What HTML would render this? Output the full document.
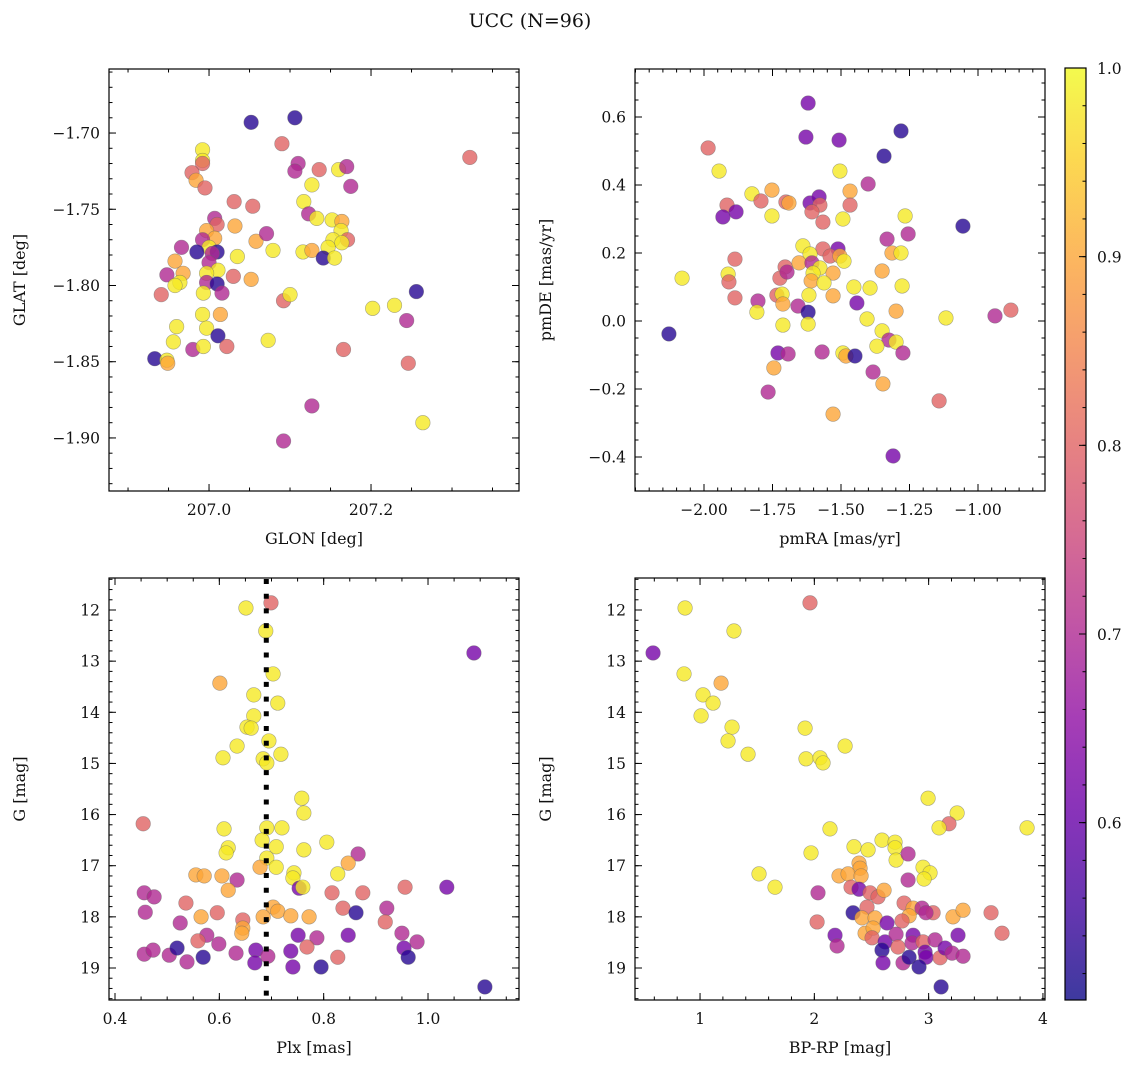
<!DOCTYPE html>
<html><head><meta charset="utf-8">
<style>
html,body{margin:0;padding:0;background:#fff;}
svg text{font-family:"DejaVu Serif","Liberation Serif",serif;fill:#111;}
</style></head>
<body>
<svg id="fig" width="1136" height="1068" viewBox="0 0 1136 1068" xmlns="http://www.w3.org/2000/svg">
<text x="530" y="27" font-size="19" text-anchor="middle">UCC (N=96)</text>
<defs>
<linearGradient id="plasmaGrad" x1="0" y1="1" x2="0" y2="0"></linearGradient>
</defs>
</svg>
<script>
// ---------- Panel 1: GLON / GLAT ----------
const p1Lon=[207.052,207.106,207.090,206.992,206.992,206.992,206.979,206.984,206.995,207.110,207.106,207.136,207.160,207.170,207.175,207.127,207.117,207.123,207.133,207.152,207.164,207.163,207.171,207.153,207.164,207.147,207.116,207.127,207.141,207.155,
207.031,207.054,207.007,207.010,207.032,206.997,207.007,206.992,207.000,207.010,206.985,206.966,207.004,207.058,207.071,207.079,207.035,206.958,207.000,207.011,206.997,206.968,206.948,206.964,206.958,206.997,207.010,207.016,206.993,207.030,207.052,206.941,207.092,207.100,207.202,206.992,207.014,206.960,206.997,207.011,206.956,206.980,206.993,207.022,207.073,207.166,206.933,206.948,206.949,
207.229,207.256,207.244,207.246,207.264,207.127,207.092,207.322];
const p1Lat=[-1.693,-1.690,-1.707,-1.711,-1.718,-1.720,-1.726,-1.731,-1.736,-1.720,-1.725,-1.724,-1.724,-1.722,-1.735,-1.734,-1.745,-1.753,-1.756,-1.757,-1.758,-1.764,-1.770,-1.770,-1.772,-1.775,-1.778,-1.777,-1.782,-1.782,
-1.745,-1.748,-1.756,-1.760,-1.761,-1.764,-1.769,-1.770,-1.775,-1.778,-1.778,-1.775,-1.779,-1.771,-1.766,-1.777,-1.781,-1.784,-1.785,-1.790,-1.792,-1.792,-1.793,-1.798,-1.800,-1.798,-1.799,-1.805,-1.805,-1.794,-1.796,-1.806,-1.810,-1.806,-1.815,-1.819,-1.819,-1.827,-1.828,-1.833,-1.837,-1.842,-1.840,-1.840,-1.836,-1.842,-1.848,-1.849,-1.851,
-1.813,-1.804,-1.823,-1.851,-1.890,-1.879,-1.902,-1.716];
const p1Prob=[0.53,0.53,0.8,0.98,0.98,0.8,0.8,0.9,0.8,0.7,0.7,0.8,0.98,0.7,0.7,0.98,0.98,0.7,0.98,0.98,0.9,0.98,0.8,0.98,0.98,0.98,0.98,0.9,0.53,0.98,
0.8,0.8,0.7,0.8,0.9,0.9,0.9,0.7,0.98,0.53,0.53,0.7,0.7,0.9,0.7,0.98,0.98,0.9,0.7,0.98,0.98,0.9,0.7,0.98,0.98,0.7,0.53,0.7,0.98,0.8,0.9,0.8,0.8,0.98,0.98,0.98,0.9,0.98,0.98,0.53,0.98,0.7,0.98,0.8,0.98,0.8,0.53,0.98,0.9,
0.98,0.53,0.7,0.8,0.98,0.7,0.7,0.8];
const p1XTicks=[207.0,207.2];
const p1XLabels=["207.0","207.2"];
const p1YTicks=[-1.70,-1.75,-1.80,-1.85,-1.90];
const p1YLabels=["\u22121.70","\u22121.75","\u22121.80","\u22121.85","\u22121.90"];

// ---------- Panel 2: pmRA / pmDE ----------
const p2PmRA=[-1.620,-1.628,-1.507,-1.281,-1.343,-1.985,-1.945,-1.504,-1.401,-1.825,-1.752,-1.792,-1.701,-1.690,-1.613,-1.580,-1.577,-1.606,-1.566,-1.467,-1.467,-1.493,-1.916,-1.883,-1.931,-1.752,-1.266,-1.055,-1.332,-1.255,
-1.639,-1.566,-1.511,-1.540,-1.504,-1.489,-1.613,-1.314,-1.281,-1.887,-2.080,-1.912,-1.909,-1.704,-1.653,-1.606,-1.577,-1.602,-1.529,-1.350,-1.723,-1.697,-1.609,-1.562,-1.453,-1.394,-1.277,-1.887,-1.803,-1.734,
-1.715,-1.712,-1.617,-1.529,-1.657,-1.442,-1.807,-1.620,-1.299,-1.712,-1.620,-1.405,-1.117,-0.938,-0.880,-2.128,-1.350,-1.325,-1.299,-1.369,-1.274,-1.730,-1.693,-1.569,-1.493,-1.482,-1.449,-1.745,-1.383,-1.347,-1.766,-1.142,-1.529,-1.310];
const p2PmDE=[0.641,0.541,0.532,0.559,0.485,0.509,0.441,0.441,0.403,0.374,0.385,0.353,0.350,0.347,0.347,0.365,0.341,0.321,0.291,0.382,0.341,0.300,0.341,0.321,0.306,0.309,0.309,0.279,0.241,0.256,
0.221,0.212,0.212,0.191,0.191,0.176,0.197,0.200,0.200,0.182,0.126,0.138,0.115,0.159,0.171,0.171,0.156,0.141,0.141,0.147,0.126,0.144,0.118,0.112,0.100,0.097,0.103,0.068,0.059,0.076,
0.079,0.050,0.076,0.074,0.044,0.053,0.026,0.026,0.029,-0.012,-0.009,0.006,0.009,0.015,0.032,-0.038,-0.029,-0.056,-0.062,-0.074,-0.094,-0.094,-0.097,-0.091,-0.094,-0.103,-0.103,-0.138,-0.150,-0.185,-0.209,-0.235,-0.274,-0.397];
const p2Prob=[0.62,0.62,0.62,0.53,0.53,0.8,0.98,0.98,0.7,0.98,0.9,0.8,0.8,0.9,0.62,0.62,0.8,0.8,0.8,0.9,0.8,0.98,0.8,0.62,0.62,0.98,0.98,0.53,0.7,0.7,
0.98,0.8,0.62,0.8,0.9,0.98,0.98,0.9,0.98,0.8,0.98,0.98,0.8,0.8,0.9,0.7,0.98,0.98,0.9,0.9,0.8,0.7,0.9,0.98,0.98,0.98,0.98,0.8,0.7,0.8,
0.98,0.9,0.98,0.9,0.7,0.62,0.98,0.53,0.9,0.98,0.98,0.98,0.98,0.7,0.8,0.53,0.98,0.7,0.98,0.98,0.7,0.62,0.7,0.7,0.98,0.9,0.53,0.9,0.7,0.9,0.7,0.8,0.9,0.62];
const p2XTicks=[-2.0,-1.75,-1.5,-1.25,-1.0];
const p2XLabels=["\u22122.00","\u22121.75","\u22121.50","\u22121.25","\u22121.00"];
const p2YTicks=[-0.4,-0.2,0.0,0.2,0.4,0.6];
const p2YLabels=["\u22120.4","\u22120.2","0.0","0.2","0.4","0.6"];

// ---------- Panel 3: Plx / G ----------
const p3Plx=[0.699,0.651,0.689,1.088,0.703,0.601,0.666,0.712,0.666,0.653,0.661,0.695,0.634,0.607,0.684,0.691,0.718,0.758,0.762,0.454,0.609,0.691,0.720,0.682,0.709,0.762,0.806,0.617,0.613,0.866,
0.691,0.847,0.678,0.709,0.743,0.555,0.571,0.605,0.634,0.827,0.741,0.617,0.753,0.760,0.956,1.036,0.456,0.475,0.816,0.875,0.536,0.458,0.596,0.565,0.703,0.712,0.684,0.737,0.772,0.837,
0.862,0.921,0.918,0.645,0.645,0.643,0.525,0.576,0.559,0.599,0.751,0.787,0.847,0.950,0.979,0.954,0.962,0.456,0.473,0.504,0.519,0.538,0.569,0.632,0.670,0.668,0.693,0.737,0.741,0.768,0.795,0.827,1.109];
const p3G=[11.86,11.96,12.41,12.84,13.25,13.43,13.66,13.82,14.07,14.29,14.31,14.56,14.66,14.89,14.91,14.99,14.82,15.68,15.97,16.18,16.28,16.26,16.26,16.50,16.63,16.69,16.54,16.65,16.75,16.77,
16.85,16.95,17.03,17.03,17.14,17.18,17.20,17.20,17.28,17.16,17.24,17.48,17.44,17.42,17.42,17.42,17.53,17.61,17.53,17.53,17.73,17.91,17.92,18.00,17.81,17.89,18.00,17.98,18.00,17.83,
17.92,17.83,18.10,18.06,18.22,18.32,18.12,18.36,18.47,18.53,18.36,18.41,18.36,18.32,18.49,18.61,18.79,18.73,18.65,18.75,18.61,18.88,18.79,18.71,18.65,18.90,18.77,18.67,18.98,18.59,18.98,18.79,19.37];
const p3Prob=[0.8,0.98,0.98,0.62,0.98,0.9,0.98,0.98,0.98,0.98,0.98,0.98,0.98,0.98,0.98,0.98,0.98,0.98,0.98,0.8,0.98,0.98,0.98,0.98,0.98,0.98,0.98,0.98,0.98,0.7,
0.98,0.9,0.9,0.98,0.98,0.9,0.9,0.9,0.7,0.98,0.98,0.9,0.62,0.98,0.8,0.62,0.7,0.7,0.8,0.8,0.8,0.7,0.8,0.9,0.9,0.9,0.9,0.9,0.9,0.8,
0.53,0.7,0.8,0.8,0.9,0.9,0.7,0.7,0.8,0.7,0.62,0.7,0.62,0.7,0.7,0.62,0.53,0.7,0.7,0.7,0.53,0.7,0.53,0.7,0.62,0.62,0.7,0.62,0.62,0.8,0.53,0.8,0.53];
const p3PlxMean=0.69;
const p3XTicks=[0.4,0.6,0.8,1.0];
const p3XLabels=["0.4","0.6","0.8","1.0"];
const gTicks=[12,13,14,15,16,17,18,19];
const gLabels=["12","13","14","15","16","17","18","19"];

// ---------- Panel 4: BP-RP / G ----------
const p4BpRp=[0.869,1.962,1.297,0.589,0.860,1.184,1.026,1.114,1.009,1.280,1.245,1.420,1.919,1.927,2.050,2.076,2.269,2.995,3.249,3.178,3.091,3.861,2.137,1.971,2.347,2.470,2.592,2.706,2.706,2.715,
2.820,2.951,3.012,2.960,2.820,2.391,2.400,2.216,2.295,2.409,1.516,1.656,2.032,2.321,2.391,2.487,2.557,2.610,2.024,2.339,2.461,2.417,2.531,2.785,2.864,2.829,2.767,2.942,3.039,2.977,
3.213,3.301,3.546,3.642,2.636,2.444,2.514,2.505,2.181,2.199,2.619,2.592,2.601,2.715,2.732,2.776,2.864,2.855,2.829,2.951,2.969,2.977,2.916,3.056,3.100,3.144,3.205,3.257,3.301,3.109];
const p4G=[11.96,11.86,12.41,12.84,13.25,13.43,13.66,13.82,14.07,14.29,14.56,14.82,14.31,14.91,14.89,14.99,14.66,15.68,15.97,16.18,16.26,16.26,16.28,16.75,16.63,16.69,16.50,16.54,16.65,16.89,
16.77,17.03,17.14,17.26,17.28,16.95,17.05,17.20,17.16,17.20,17.16,17.42,17.53,17.42,17.46,17.53,17.61,17.48,18.10,17.92,17.81,18.02,18.02,17.73,17.83,17.98,18.08,17.83,17.92,17.92,
18.00,17.87,17.92,18.32,18.12,18.32,18.22,18.41,18.36,18.57,18.49,18.65,18.90,18.34,18.59,18.90,18.36,18.51,18.79,18.49,18.69,18.79,18.98,18.45,18.80,18.61,18.71,18.36,18.77,19.37];
const p4Prob=[0.98,0.8,0.98,0.62,0.98,0.9,0.98,0.98,0.98,0.98,0.98,0.98,0.98,0.98,0.98,0.98,0.98,0.98,0.98,0.8,0.98,0.98,0.98,0.98,0.98,0.98,0.98,0.98,0.98,0.98,
0.7,0.98,0.98,0.98,0.7,0.9,0.9,0.9,0.9,0.9,0.98,0.98,0.7,0.8,0.62,0.8,0.8,0.9,0.8,0.53,0.8,0.9,0.9,0.8,0.9,0.9,0.8,0.7,0.8,0.7,
0.9,0.9,0.8,0.8,0.62,0.9,0.9,0.8,0.62,0.7,0.62,0.53,0.62,0.7,0.8,0.7,0.62,0.7,0.53,0.8,0.62,0.62,0.53,0.7,0.8,0.62,0.7,0.62,0.7,0.53];
const p4XTicks=[1,2,3,4];
const p4XLabels=["1","2","3","4"];

// ---------- Colorbar ----------
const cbTicks=[0.6,0.7,0.8,0.9,1.0];
const cbLabels=["0.6","0.7","0.8","0.9","1.0"];
const cbMin=0.506, cbMax=1.0;

const NS="http://www.w3.org/2000/svg";
const svg=document.getElementById('fig');
const plasma=[[13,8,135],[65,4,157],[106,0,168],[143,13,164],[177,42,144],[204,71,120],[225,100,98],[242,132,75],[252,166,54],[252,206,37],[240,249,33]];
function cmap(v){
  let t=(v-cbMin)/(cbMax-cbMin); t=Math.max(0,Math.min(1,t));
  const f=t*10, i=Math.min(9,Math.floor(f)), r=f-i;
  const a=plasma[i], b=plasma[i+1];
  return 'rgb('+a.map((c,k)=>Math.round(c+(b[k]-c)*r)).join(',')+')';
}
function el(tag,attrs,parent){
  const e=document.createElementNS(NS,tag);
  for(const k in attrs) e.setAttribute(k,attrs[k]);
  (parent||svg).appendChild(e); return e;
}
function range(a,b,s){const r=[];for(let v=a;v<=b+1e-9;v+=s)r.push(+v.toFixed(6));return r;}

function panel(name,box,xd,yd,xt,xl,yt,yl,xMinor,yMinor,xs,ys,ps,xlabel,ylabel){
  const g=el('g',{});
  
  
  const sx=v=>box.x+(v-xd[0])/(xd[1]-xd[0])*box.w;
  const sy=v=>box.y+box.h-(v-yd[0])/(yd[1]-yd[0])*box.h;
  const pts=el('g',{},g);
  
  
  for(let i=0;i<xs.length;i++){
    const c=el('circle',{cx:sx(xs[i]),cy:sy(ys[i]),r:7.3,fill:cmap(ps[i]),'fill-opacity':0.8,stroke:'#666','stroke-opacity':0.55,'stroke-width':0.6},pts);
    
    
  }
  const fr=el('rect',{x:box.x,y:box.y,width:box.w,height:box.h,fill:'none',stroke:'#000','stroke-width':1.2},g);
  
  
  const tk=el('g',{stroke:'#000','stroke-width':1},g);
  const inX=v=>sx(v)>=box.x-0.5&&sx(v)<=box.x+box.w+0.5;
  const inY=v=>sy(v)>=box.y-0.5&&sy(v)<=box.y+box.h+0.5;
  function xtick(v,len){const X=sx(v);el('line',{x1:X,x2:X,y1:box.y+box.h,y2:box.y+box.h-len},tk);el('line',{x1:X,x2:X,y1:box.y,y2:box.y+len},tk);}
  function ytick(v,len){const Y=sy(v);el('line',{x1:box.x,x2:box.x+len,y1:Y,y2:Y},tk);el('line',{x1:box.x+box.w,x2:box.x+box.w-len,y1:Y,y2:Y},tk);}
  xMinor.filter(inX).forEach(v=>xtick(v,3.5));
  yMinor.filter(inY).forEach(v=>ytick(v,3.5));
  xt.forEach((v,i)=>{xtick(v,7);
    const t=el('text',{x:sx(v),y:box.y+box.h+24,'font-size':15.5,'text-anchor':'middle'},g);t.textContent=xl[i];
    
    });
  yt.forEach((v,i)=>{ytick(v,7);
    const t=el('text',{x:box.x-9,y:sy(v)+5.5,'font-size':15.5,'text-anchor':'end'},g);t.textContent=yl[i];
    
    });
  const xa=el('text',{x:box.x+box.w/2,y:box.y+box.h+53,'font-size':16,'text-anchor':'middle'},g);xa.textContent=xlabel;
  
  
  const ya=el('text',{x:0,y:0,'font-size':16,'text-anchor':'middle',transform:'translate('+(box.x-84)+','+(box.y+box.h/2)+') rotate(-90)'},g);ya.textContent=ylabel;
  
  
}

panel('glon-glat-panel',{x:109,y:69,w:410,h:422},[206.8765,207.3827],[-1.9348,-1.6580],p1XTicks,p1XLabels,p1YTicks,p1YLabels,range(206.85,207.4,0.05),range(-1.94,-1.65,0.01),p1Lon,p1Lat,p1Prob,'GLON [deg]','GLAT [deg]');
panel('pm-panel',{x:635,y:69,w:410,h:422},[-2.2518,-0.7555],[-0.5,0.7412],p2XTicks,p2XLabels,p2YTicks,p2YLabels,range(-2.25,-0.75,0.05),range(-0.5,0.75,0.05),p2PmRA,p2PmDE,p2Prob,'pmRA [mas/yr]','pmDE [mas/yr]');
panel('plx-g-panel',{x:109,y:578,w:410,h:422},[0.3885,1.1744],[19.626,11.374],p3XTicks,p3XLabels,gTicks,gLabels,range(0.35,1.2,0.05),range(11.2,19.8,0.2),p3Plx,p3G,p3Prob,'Plx [mas]','G [mag]');
panel('cmd-panel',{x:635,y:578,w:410,h:422},[0.431,4.018],[19.626,11.374],p4XTicks,p4XLabels,gTicks,gLabels,range(0.4,4.2,0.2),range(11.2,19.8,0.2),p4BpRp,p4G,p4Prob,'BP-RP [mag]','G [mag]');

// plx reference line (drawn above points)
{
  const X=109+(p3PlxMean-0.3885)/(1.1744-0.3885)*410;
  const ln=el('line',{x1:X,x2:X,y1:579,y2:999,stroke:'#000','stroke-width':5,'stroke-dasharray':'5 9.7'});
  
  
}

// colorbar
{
  const grad=document.getElementById('plasmaGrad');
  for(let i=0;i<=20;i++){
    const v=cbMin+(cbMax-cbMin)*i/20;
    el('stop',{offset:(i*5)+'%','stop-color':cmap(v),'stop-opacity':0.8},grad);
  }
  const cb=el('g',{});
  
  
  const cx=1065,cy=68,cw=21,ch=932;
  const sc=v=>cy+ch-(v-cbMin)/(cbMax-cbMin)*ch;
  el('rect',{x:cx,y:cy,width:cw,height:ch,fill:'url(#plasmaGrad)'},cb);
  el('rect',{x:cx,y:cy,width:cw,height:ch,fill:'none',stroke:'#000','stroke-width':1.2},cb);
  range(0.52,1.0,0.02).forEach(v=>{const Y=sc(v);el('line',{x1:cx+cw,x2:cx+cw-3.5,y1:Y,y2:Y,stroke:'#000'},cb);});
  cbTicks.forEach((v,i)=>{const Y=sc(v);
    el('line',{x1:cx+cw,x2:cx+cw-7,y1:Y,y2:Y,stroke:'#000'},cb);
    const t=el('text',{x:cx+cw+11,y:Y+6,'font-size':15.5},cb);t.textContent=cbLabels[i];
    
    });
}
</script>
</body></html>
